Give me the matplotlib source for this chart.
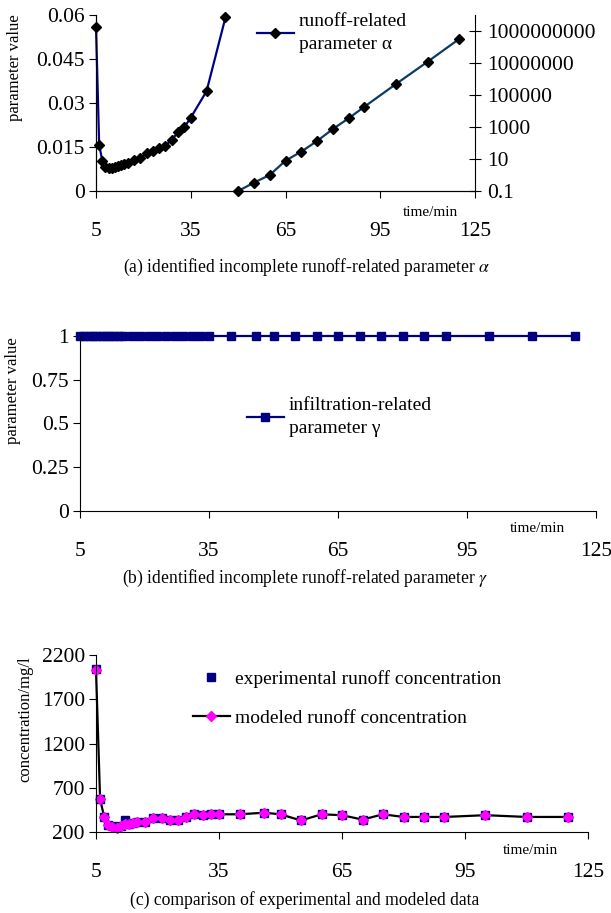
import matplotlib.pyplot as plt

plt.rcParams['font.family'] = ['Liberation Serif', 'DejaVu Serif']
plt.rcParams['mathtext.fontset'] = 'stix'

# sampling times (min)
t_all = [5, 6, 7, 8, 9, 10, 11, 12, 13, 14, 15, 17, 19, 21, 23, 25, 27, 29, 31, 33, 35,
         40, 46, 50, 55, 60, 65, 70, 75, 80, 85, 90, 100, 110, 120]

# alpha, first part (linear left axis)
t_alpha_lin = [5, 6, 7, 8, 9, 10, 11, 12, 13, 14, 15, 17, 19, 21, 23, 25, 27, 29, 31, 33, 35, 40, 46]
alpha_lin = [0.056, 0.0158, 0.0103, 0.0083, 0.0080, 0.0080, 0.0082, 0.0086, 0.0088, 0.0092, 0.0097,
             0.0105, 0.0113, 0.0128, 0.0138, 0.0145, 0.0155, 0.0175, 0.0200, 0.0218, 0.0250, 0.0340, 0.0592]

# alpha, second part (log right axis)
t_alpha_log = [50, 55, 60, 65, 70, 75, 80, 85, 90, 100, 110, 120]
alpha_log = [0.1, 0.33, 1.0, 7.8, 29, 133, 750, 3500, 18600, 4.9e5, 1.2e7, 3.2e8]

# gamma
gamma = [1, 1, 1, 1, 1, 1, 1, 1, 1, 1, 1, 1, 1, 1, 1, 1, 1, 1, 1, 1, 1,
         1, 1, 1, 1, 1, 1, 1, 1, 1, 1, 1, 1, 1, 1]

# runoff concentration mg/l
conc_exp = [2040, 570, 370, 276, 268, 257, 270, 340, 290, 300, 312, 314, 363, 363, 340, 340, 370, 400, 390, 408,
            400, 400, 418, 400, 330, 400, 390, 340, 400, 370, 370, 370, 390, 370, 370]
conc_mod = [2030, 570, 370, 276, 262, 250, 265, 287, 290, 300, 312, 314, 363, 363, 340, 340, 370, 400, 390, 408,
            400, 400, 418, 400, 330, 400, 390, 340, 400, 370, 370, 370, 390, 370, 370]

xticks = [5, 35, 65, 95, 125]

W, H = 611, 913
fig = plt.figure(figsize=(W / 100, H / 100), dpi=100)


def px_axes(left, right, top, bottom):
    return fig.add_axes([left / W, 1 - bottom / H, (right - left) / W, (bottom - top) / H])


def style(ax):
    ax.set_xlim(5, 125)
    ax.set_xticks(xticks)
    ax.spines['top'].set_visible(False)
    ax.spines['right'].set_visible(False)
    ax.tick_params(axis='x', direction='out', length=5, pad=17, labelsize=15.5)
    ax.tick_params(axis='y', direction='out', length=5, pad=3, labelsize=15.5)
    ax.set_facecolor('none')


def legend(ax, x, y, spacing):
    leg = ax.legend(loc='upper left', bbox_to_anchor=(x, y), frameon=False, fontsize=14,
                    handlelength=1.9, handletextpad=0.25, labelspacing=spacing,
                    borderpad=0, borderaxespad=0)
    for txt in leg.get_texts():
        txt.set_linespacing(1.45)
    return leg


# (a)
ax1 = px_axes(96, 475, 15, 191)
style(ax1)
ax1.plot(t_alpha_lin, alpha_lin, color='#00008B', lw=1.6, marker='D', ms=5.5,
         mfc='black', mec='black', clip_on=False, label='runoff-related\nparameter α', zorder=3)
ax1.set_ylim(0, 0.06)
ax1.set_yticks([0, 0.015, 0.03, 0.045, 0.06])
ax1.set_yticklabels(['0', '0.015', '0.03', '0.045', '0.06'])

ax2 = ax1.twinx()
ax2.plot(t_alpha_log, alpha_log, color='#0B3B66', lw=1.6, marker='D', ms=5.5,
         mfc='black', mec='black', clip_on=False)
ax2.set_yscale('log')
ax2.set_ylim(0.1, 1e10)
ax2.set_yticks([0.1, 10, 1e3, 1e5, 1e7, 1e9])
ax2.set_yticklabels(['0.1', '10', '1000', '100000', '10000000', '1000000000'])
ax2.minorticks_off()
ax2.spines['top'].set_visible(False)
ax2.tick_params(axis='y', direction='inout', length=9, labelsize=15.5, pad=4)
legend(ax1, (257 - 96) / 379, 1.01, 0.1)
fig.text(15 / W, 1 - 68 / H, 'parameter value', rotation=90, ha='center', va='center', fontsize=12)
fig.text(430 / W, 1 - 212 / H, 'time/min', ha='center', va='center', fontsize=11)
fig.text(307 / W, 1 - 267 / H, '(a) identified incomplete runoff-related parameter $\\alpha$',
         ha='center', va='center', fontsize=12.7)

# (b)
ax3 = px_axes(80, 596, 336, 511)
style(ax3)
ax3.plot(t_all, gamma, color='#000080', lw=1.6, marker='s', ms=5.5, mfc='#000080', mec='#000080',
         clip_on=False, label='infiltration-related\nparameter γ')
ax3.set_ylim(0, 1)
ax3.set_yticks([0, 0.25, 0.5, 0.75, 1])
ax3.set_yticklabels(['0', '0.25', '0.5', '0.75', '1'])
legend(ax3, (247 - 80) / 516, (511 - 397) / 175, 0.1)
fig.text(13 / W, 1 - 391 / H, 'parameter value', rotation=90, ha='center', va='center', fontsize=12)
fig.text(537 / W, 1 - 528 / H, 'time/min', ha='center', va='center', fontsize=11)
fig.text(305 / W, 1 - 578 / H, '(b) identified incomplete runoff-related parameter $\\gamma$',
         ha='center', va='center', fontsize=12.7)

# (c)
ax4 = px_axes(96, 588, 655, 832)
style(ax4)
ax4.plot(t_all, conc_exp, ls='none', marker='s', ms=5.5, mfc='#000080', mec='#000080',
         clip_on=False, label='experimental runoff concentration')
ax4.plot(t_all, conc_mod, color='black', lw=1.6, marker='D', ms=5.5, mfc='#FF00FF', mec='#FF00FF',
         clip_on=False, label='modeled runoff concentration')
ax4.set_ylim(200, 2200)
ax4.set_yticks([200, 700, 1200, 1700, 2200])
legend(ax4, (193 - 96) / 492, (832 - 670) / 177, 1.1)
fig.text(25 / W, 1 - 719 / H, 'concentration/mg/l', rotation=90, ha='center', va='center', fontsize=12)
fig.text(530 / W, 1 - 850 / H, 'time/min', ha='center', va='center', fontsize=11)
fig.text(305 / W, 1 - 900 / H, '(c) comparison of experimental and modeled data',
         ha='center', va='center', fontsize=12.7)

fig.savefig('out.png', dpi=100)
